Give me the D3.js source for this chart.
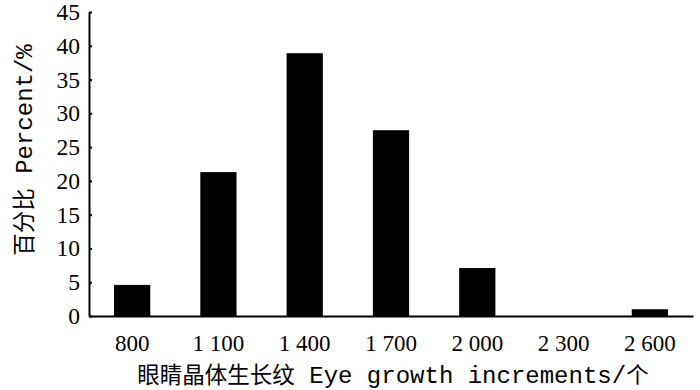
<!DOCTYPE html>
<html>
<head>
<meta charset="utf-8">
<script src="https://cdn.jsdelivr.net/npm/d3@7"></script>
</head>
<body style="margin:0;background:#fff">
<div id="chart"></div>
<script>
// eye growth increments vs percent
const categories = ['800', '1 100', '1 400', '1 700', '2 000', '2 300', '2 600'];
const percents = [4.6, 21.3, 38.9, 27.5, 7.1, 0, 1.0];
const yTicks = [0, 5, 10, 15, 20, 25, 30, 35, 40, 45];
const xTitle = [['眼睛晶体生长纹', 'cjk'], [' Eye growth increments/', 'lat'], ['个', 'cjk']];
const yTitle = [['百分比', 'cjk'], [' Percent/%', 'lat']];

const width = 700;
const height = 390;
const margin = {top: 12, right: 7, bottom: 74, left: 89};
const serif = '"Liberation Serif", "DejaVu Serif", serif';
const fonts = {
  cjk: {family: '"Noto Sans CJK SC", sans-serif', size: '22.5px'},
  lat: {family: '"Liberation Mono", "DejaVu Sans Mono", monospace', size: '24px'}
};

const svg = d3.select('#chart').append('svg')
  .attr('width', width)
  .attr('height', height)
  .style('display', 'block');

const x = d3.scaleBand()
  .domain(categories)
  .range([margin.left, width - margin.right])
  .paddingInner(0.58)
  .paddingOuter(0.29);

const y = d3.scaleLinear()
  .domain([0, 45])
  .range([height - margin.bottom, margin.top]);

svg.append('g')
  .selectAll('rect')
  .data(percents)
  .enter().append('rect')
  .attr('x', (d, i) => x(categories[i]))
  .attr('y', d => y(d))
  .attr('width', x.bandwidth())
  .attr('height', d => y(0) - y(d))
  .attr('fill', '#000');

const yAxis = svg.append('g')
  .attr('transform', `translate(${margin.left},0)`)
  .call(d3.axisLeft(y)
    .tickValues(yTicks)
    .tickSizeInner(-3)
    .tickSizeOuter(0)
    .tickPadding(9));
yAxis.select('.domain').attr('stroke-width', 2);
yAxis.selectAll('.tick line').attr('stroke-width', 2);
yAxis.selectAll('.tick text')
  .style('font-family', serif)
  .style('font-size', '23.5px');

const xAxis = svg.append('g')
  .attr('transform', `translate(0,${y(0)})`)
  .call(d3.axisBottom(x).tickSize(0).tickPadding(19));
xAxis.select('.domain').attr('stroke-width', 2);
xAxis.selectAll('.tick text')
  .style('font-family', serif)
  .style('font-size', '23px');

function addTitle(parts, sel) {
  sel.selectAll('tspan')
    .data(parts)
    .enter().append('tspan')
    .style('font-family', d => fonts[d[1]].family)
    .style('font-size', d => fonts[d[1]].size)
    .style('white-space', 'pre')
    .text(d => d[0]);
}

addTitle(xTitle, svg.append('text')
  .attr('x', 393)
  .attr('y', 383)
  .attr('text-anchor', 'middle'));

addTitle(yTitle, svg.append('text')
  .attr('transform', 'translate(32,150) rotate(-90)')
  .attr('text-anchor', 'middle'));
</script>
</body>
</html>
